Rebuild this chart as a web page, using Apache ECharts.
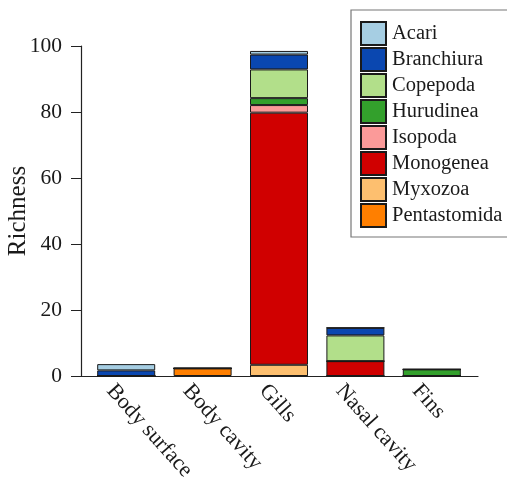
<!DOCTYPE html>
<html>
<head>
<meta charset="utf-8">
<script src="https://cdn.jsdelivr.net/npm/echarts@6/dist/echarts.min.js"></script>
<style>
  html, body { margin: 0; padding: 0; background: #fff; }
  #chart { width: 507px; height: 481px; }
</style>
</head>
<body>
<div id="chart"></div>
<script>
// Parasite richness by site of infection, stacked by taxon
const sites = ['Body surface', 'Body cavity', 'Gills', 'Nasal cavity', 'Fins'];
const legendOrder = ['Acari', 'Branchiura', 'Copepoda', 'Hurudinea', 'Isopoda', 'Monogenea', 'Myxozoa', 'Pentastomida'];
const yTicks = [0, 20, 40, 60, 80, 100];

// values per site, in the order of `sites`
const pentastomida = [0, 2.3, 0, 0, 0];
const myxozoa      = [0, 0, 3.4, 0, 0];
const monogenea    = [0, 0, 76.4, 4.5, 0];
const isopoda      = [0, 0, 2.3, 0, 0];
const hurudinea    = [0, 0, 2.1, 0, 2.0];
const copepoda     = [0, 0, 8.7, 7.8, 0];
const branchiura   = [1.7, 0, 4.5, 2.3, 0];
const acari        = [1.9, 0, 1.1, 0, 0];

const colors = {
  Acari: '#a6cee3',
  Branchiura: '#0a47b0',
  Copepoda: '#b2df8a',
  Hurudinea: '#33a02c',
  Isopoda: '#fb9a99',
  Monogenea: '#d00000',
  Myxozoa: '#fdbf6f',
  Pentastomida: '#ff7f00'
};

// bottom-to-top stacking order
const stackSeries = [
  ['Pentastomida', pentastomida],
  ['Myxozoa', myxozoa],
  ['Monogenea', monogenea],
  ['Isopoda', isopoda],
  ['Hurudinea', hurudinea],
  ['Copepoda', copepoda],
  ['Branchiura', branchiura],
  ['Acari', acari]
];

const font = 'Liberation Serif';
const ink = '#1a1a1a';
const chart = echarts.init(document.getElementById('chart'));

chart.setOption({
  animation: false,
  backgroundColor: '#fff',
  grid: [
    // plotting area for the bars
    { left: 88, right: 37, top: 46, bottom: 105, containLabel: false, outerBoundsMode: 'none' },
    // full-width frame that carries the baseline
    { left: 81, right: 29, top: 46, bottom: 105, containLabel: false, outerBoundsMode: 'none' }
  ],
  legend: {
    data: legendOrder,
    orient: 'vertical',
    left: 351,
    top: 10,
    padding: [11, 10, 9, 9],
    itemWidth: 25,
    itemHeight: 23,
    itemGap: 1,
    icon: 'rect',
    backgroundColor: '#fff',
    borderColor: '#777',
    borderWidth: 1.2,
    textStyle: { fontFamily: font, fontSize: 20.5, lineHeight: 23, color: ink, padding: [0, 0, 0, 1] }
  },
  xAxis: [
    {
      type: 'category',
      gridIndex: 0,
      data: sites,
      axisLine: { show: false },
      axisTick: { show: false },
      axisLabel: {
        rotate: -48,
        interval: 0,
        margin: -3,
        align: 'left',
        verticalAlign: 'top',
        lineHeight: 43,
        fontFamily: font,
        fontSize: 22,
        color: ink
      }
    },
    {
      type: 'value',
      gridIndex: 1,
      min: 0,
      max: 1,
      axisLine: { show: true, onZero: false, lineStyle: { color: '#222', width: 1.2 } },
      axisTick: { show: false },
      axisLabel: { show: false },
      splitLine: { show: false }
    }
  ],
  yAxis: [
    {
      type: 'value',
      gridIndex: 0,
      offset: 7,
      min: 0,
      max: yTicks[yTicks.length - 1],
      interval: yTicks[1] - yTicks[0],
      name: 'Richness',
      nameLocation: 'middle',
      nameGap: 50,
      nameMoveOverlap: false,
      nameTextStyle: { fontFamily: font, fontSize: 25, color: ink },
      axisLine: { show: true, lineStyle: { color: '#222', width: 1.2 } },
      axisTick: { show: true, length: 10, lineStyle: { color: '#222' } },
      axisLabel: { margin: 19, fontFamily: font, fontSize: 21.5, color: ink },
      splitLine: { show: false }
    },
    {
      type: 'value',
      gridIndex: 1,
      show: false,
      min: 0,
      max: 1
    }
  ],
  series: stackSeries.map(([name, values]) => ({
    name: name,
    type: 'bar',
    stack: 'total',
    xAxisIndex: 0,
    yAxisIndex: 0,
    barWidth: 58,
    data: values,
    itemStyle: { color: colors[name], borderColor: ink, borderWidth: 1 }
  }))
});
</script>
</body>
</html>
